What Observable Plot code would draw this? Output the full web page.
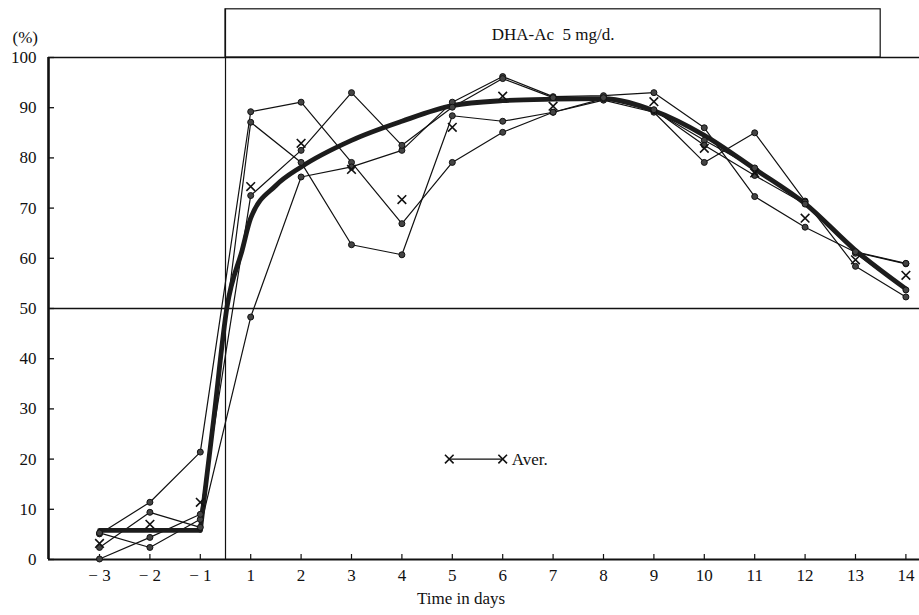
<!DOCTYPE html>
<html><head><meta charset="utf-8">
<script src="https://cdn.jsdelivr.net/npm/d3@7"></script>
<script src="https://cdn.jsdelivr.net/npm/@observablehq/plot@0.6"></script>
<style>
html,body{margin:0;padding:0;background:#fff;}
#chart{width:919px;height:615px;}
svg{display:block;}
</style></head><body><div id="chart"></div>
<script>
// Days (positions 0..16 on the x scale; there is no day 0)
const dayLabels = ["\u2212 3","\u2212 2","\u2212 1","1","2","3","4","5","6","7","8","9","10","11","12","13","14"];
// Individual series (%), one value per day above
const seriesA = [5.1, 11.4, 21.4, 89.2, 91.1, 79.1, 66.9, 79.1, 85.1, 89.1, 91.5, 89.1, 79.1, 85.0, 71.4, 58.4, 52.3];
const seriesB = [2.4, 9.4, 6.4, 48.3, 76.2, 78.2, 81.5, 91.1, 96.2, 92.2, 92.4, 93.0, 86.0, 72.3, 66.2, 61.2, 58.9];
const seriesC = [5.3, 2.4, 8.0, 87.1, 79.1, 62.7, 60.7, 88.4, 87.3, 89.1, 91.8, 89.4, 83.5, 78.0, 71.2, 61.0, 53.7];
const seriesD = [0.1, 4.4, 9.0, 72.5, 81.5, 93.0, 82.5, 90.1, 95.8, 92.0, 92.0, 89.6, 82.5, 76.5, 70.8, 61.3, 59.0];
// Average markers (x)
const aver = [3.2, 7.0, 11.4, 74.3, 82.9, 77.7, 71.7, 86.1, 92.3, 90.3, null, 91.2, 81.9, 77.0, 68.0, 59.7, 56.6];
// Thick fitted average curve (positions on the same day-position scale)
const curveX = [0, 1, 2, 2.27, 2.53, 2.83, 3, 3.5, 4, 5, 6, 7, 8, 9, 10, 11, 12, 13, 14, 15, 16];
const curveY = [5.8, 5.8, 5.8, 28.3, 50.3, 61.6, 68.0, 74.5, 78.2, 83.5, 87.3, 90.4, 91.4, 91.7, 91.8, 89.4, 84.5, 77.8, 70.9, 61.6, 53.9];
// Treatment period box
const treatStart = 2.5, treatEnd = 15.5;
const boxLabel = "DHA-Ac  5 mg/d.";
const yTicks = [0,10,20,30,40,50,60,70,80,90,100];
const xTitle = "Time in days";
const yUnit = "(%)";
const legendLabel = "Aver.";

const xPos = dayLabels.map((d, i) => i);
const rows = [];
[["A", seriesA], ["B", seriesB], ["C", seriesC], ["D", seriesD]].forEach(([k, arr]) =>
  arr.forEach((v, i) => rows.push({s: k, i, v})));
const averRows = aver.map((v, i) => ({i, v})).filter(d => d.v != null);
const curveRows = curveX.map((x, j) => ({x, y: curveY[j]}));
const legendRows = [{x: 6.94, y: 20}, {x: 8.0, y: 20}];

const W = 919, H = 615, mL = 48, mR = 0, mT = 57, mB = 56;
const innerW = W - mL - mR, innerH = H - mT - mB;
const xDomain = [-1.012, 16.27];
const font = "'Liberation Serif','DejaVu Serif',serif";
const ink = "#111";

const chart = Plot.plot({
  width: W, height: H,
  marginLeft: mL, marginRight: mR, marginTop: mT, marginBottom: mB,
  x: {domain: xDomain},
  y: {domain: [0, 100]},
  style: {fontFamily: font, fontSize: "16px", color: ink, background: "#fff", overflow: "visible"},
  marks: [
    // frame lines
    Plot.ruleY([100], {stroke: ink, strokeWidth: 1.3}),
    Plot.ruleY([50], {stroke: ink, strokeWidth: 1.3}),
    Plot.ruleY([0], {stroke: ink, strokeWidth: 2.2}),
    Plot.ruleX([xDomain[0]], {stroke: ink, strokeWidth: 2.6}),
    // treatment box
    Plot.rect([0], {x1: treatStart, x2: treatEnd, y1: 100, y2: 109.6, fill: "none", stroke: ink, strokeWidth: 1.2}),
    Plot.ruleX([treatStart], {y1: 0, y2: 109.6, stroke: ink, strokeWidth: 1.2}),
    Plot.text([boxLabel], {x: (treatStart + treatEnd) / 2, y: 104.5, fontSize: 17, fill: ink}),
    // ticks (inward)
    Plot.tickY(yTicks, {y: d => d, insetRight: innerW - 6, stroke: ink, strokeWidth: 1.3}),
    Plot.tickX(xPos, {x: d => d, insetTop: innerH - 5, stroke: ink, strokeWidth: 1.2}),
    // axes labels
    Plot.axisY(yTicks, {tickSize: 0, tickPadding: 12, label: null, fontSize: 17}),
    Plot.axisX(xPos, {tickSize: 0, tickPadding: 9, tickFormat: i => dayLabels[i], label: null, fontSize: 17}),
    Plot.text([xTitle], {frameAnchor: "bottom", dy: 44, dx: -23, fontSize: 17, fill: ink}),
    Plot.text([yUnit], {frameAnchor: "top-left", dx: -36, dy: -27, fontSize: 17, fill: ink}),
    // individual series
    Plot.line(rows, {x: "i", y: "v", z: "s", stroke: ink, strokeWidth: 1.2}),
    // thick average curve
    Plot.line(curveRows.slice(0, 3), {x: "x", y: "y", stroke: "#1c1c1c", strokeWidth: 4.8, strokeLinecap: "round"}),
    Plot.line(curveRows.slice(2), {x: "x", y: "y", curve: "monotone-x", stroke: "#1c1c1c", strokeWidth: 4.8, strokeLinecap: "round", strokeLinejoin: "round"}),
    Plot.dot(rows, {x: "i", y: "v", r: 3, fill: "#444", stroke: ink, strokeWidth: 1}),
    Plot.dot(averRows, {x: "i", y: "v", symbol: "times", r: 4, stroke: ink, strokeWidth: 1.6}),
    // legend
    Plot.line(legendRows, {x: "x", y: "y", stroke: ink, strokeWidth: 1.2}),
    Plot.dot(legendRows, {x: "x", y: "y", symbol: "times", r: 4, stroke: ink, strokeWidth: 1.6}),
    Plot.text([legendLabel], {x: 8.18, y: 20, textAnchor: "start", fontSize: 17, fill: ink})
  ]
});
document.getElementById("chart").appendChild(chart);
</script>
</body></html>
